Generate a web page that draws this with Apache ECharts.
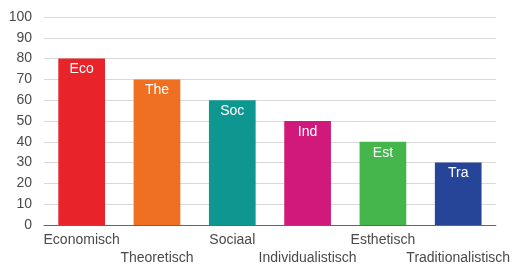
<!DOCTYPE html>
<html>
<head>
<meta charset="utf-8">
<script src="https://cdn.jsdelivr.net/npm/echarts@6/dist/echarts.min.js"></script>
<style>
  html, body { margin: 0; padding: 0; background: #fff; }
  #main { width: 513px; height: 268px; }
</style>
</head>
<body>
<div id="main"></div>
<script>
var categories = ['Economisch', 'Theoretisch', 'Sociaal', 'Individualistisch', 'Esthetisch', 'Traditionalistisch'];
var shortNames = ['Eco', 'The', 'Soc', 'Ind', 'Est', 'Tra'];
var values = [80, 70, 60, 50, 40, 30];
var barColors = ['#e8242a', '#f07023', '#0e9690', '#d1197b', '#44b64c', '#264599'];

var myChart = echarts.init(document.getElementById('main'));

var option = {
    animation: false,
    grid: { left: 44, right: 16, top: 17, bottom: 43 },
    xAxis: {
        type: 'category',
        data: categories,
        axisTick: { show: false },
        axisLine: { lineStyle: { color: '#666', width: 1 } },
        axisLabel: {
            interval: 0,
            margin: 6,
            color: '#4a4a4a',
            fontSize: 14,
            fontFamily: 'Liberation Sans',
            lineHeight: 18,
            formatter: function (value, index) {
                return index % 2 === 1 ? '\n' + value : value;
            }
        }
    },
    yAxis: {
        type: 'value',
        min: 0,
        max: 100,
        interval: 10,
        axisLine: { show: false },
        axisTick: { show: false },
        splitLine: { lineStyle: { color: '#d9d9d9', width: 1 } },
        axisLabel: {
            margin: 12,
            color: '#4a4a4a',
            fontSize: 14,
            fontFamily: 'Liberation Sans'
        }
    },
    series: [{
        type: 'bar',
        barCategoryGap: '38%',
        data: values.map(function (v, i) {
            return { value: v, itemStyle: { color: barColors[i] } };
        }),
        label: {
            show: true,
            position: 'insideTop',
            distance: 4,
            color: '#fff',
            fontSize: 14,
            fontFamily: 'Liberation Sans',
            formatter: function (p) { return shortNames[p.dataIndex]; }
        }
    }]
};

myChart.setOption(option);
</script>
</body>
</html>
